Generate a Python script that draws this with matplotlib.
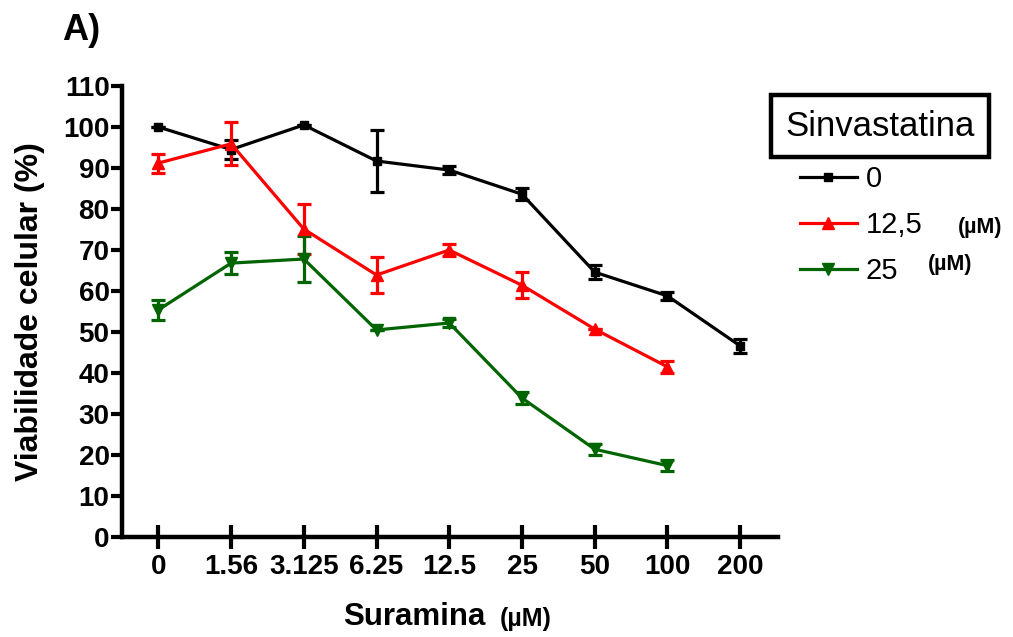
import matplotlib
matplotlib.use("Agg")
import matplotlib.pyplot as plt
from matplotlib.lines import Line2D
import numpy as np

plt.rcParams['font.family'] = ['Liberation Sans', 'DejaVu Sans']

# dados
doses = ["0", "1.56", "3.125", "6.25", "12.5", "25", "50", "100", "200"]

sinva_0 = [100.0, 94.5, 100.5, 91.7, 89.5, 83.6, 64.6, 58.8, 46.6]
sinva_0_err = [0.0, 2.3, 0.0, 7.5, 1.0, 1.5, 1.7, 1.0, 1.7]

sinva_12 = [91.2, 95.9, 75.1, 63.9, 70.0, 61.4, 50.7, 41.5]
sinva_12_err = [2.3, 5.2, 6.0, 4.5, 1.5, 3.2, 0.0, 1.5]

sinva_25 = [55.4, 66.8, 67.8, 50.5, 52.2, 33.9, 21.4, 17.4]
sinva_25_err = [2.4, 2.6, 5.7, 0.0, 1.0, 1.5, 1.3, 1.3]

series = [
    ("0", sinva_0, sinva_0_err, "black", "s", 6),
    ("12,5", sinva_12, sinva_12_err, "#ff0000", "^", 9),
    ("25", sinva_25, sinva_25_err, "#006400", "v", 9),
]

fig = plt.figure(figsize=(10.13, 6.37), dpi=100)
ax = fig.add_axes([122 / 1013, 1 - 537 / 637, (778 - 122) / 1013, (537 - 86) / 637])

x = np.arange(len(doses))
handles = []
for label, vals, err, color, marker, ms in series:
    xs = x[:len(vals)]
    ax.errorbar(xs, vals, yerr=err, color=color, lw=2.3, marker=marker, ms=ms,
                capsize=5, capthick=2.3, elinewidth=2.3, clip_on=False, zorder=3)
    handles.append(Line2D([], [], color=color, lw=2.3, marker=marker, ms=ms * 0.9))

ax.set_xlim(-0.5, 8.52)
ax.set_ylim(0, 110)
ax.set_yticks(np.arange(0, 111, 10))
ax.set_xticks(x, doses)

for side in ("top", "right"):
    ax.spines[side].set_visible(False)
for side in ("left", "bottom"):
    ax.spines[side].set_linewidth(3.2)

ax.tick_params(axis="y", direction="out", length=8, width=3, labelsize=20, pad=1)
ax.tick_params(axis="x", direction="inout", length=17, width=3, labelsize=20, pad=4)
for lab in ax.get_xticklabels() + ax.get_yticklabels():
    lab.set_fontweight("bold")

ax.set_ylabel("Viabilidade celular (%)", fontsize=23, fontweight="bold", labelpad=13)

fig.text(485 / 1013, 1 - 617 / 637, "Suramina", fontsize=22.5, fontweight="bold",
         ha="right", va="center")
fig.text(500 / 1013, 1 - 619 / 637, "(µM)", fontsize=18, fontweight="bold",
         ha="left", va="center")

fig.text(62 / 1013, 1 - 30 / 637, "A)", fontsize=26, fontweight="bold",
         ha="left", va="center")

# caixa do título da legenda
fig.text(880 / 1013, 1 - 126 / 637, "Sinvastatina", fontsize=25, ha="center", va="center",
         bbox=dict(boxstyle="square,pad=0.42", fc="white", ec="black", lw=3.2))

fig.legend(handles, [s[0] for s in series], loc="upper left",
           bbox_to_anchor=(800 / 1013, 1 - 165 / 637), frameon=False,
           fontsize=21, handlelength=1.95, handletextpad=0.3, labelspacing=0.62,
           borderaxespad=0, borderpad=0)

fig.text(958 / 1013, 1 - 227 / 637, "(µM)", fontsize=15.5, fontweight="bold",
         ha="left", va="center")
fig.text(928 / 1013, 1 - 264 / 637, "(µM)", fontsize=15.5, fontweight="bold",
         ha="left", va="center")

fig.savefig("out.png", dpi=100)
